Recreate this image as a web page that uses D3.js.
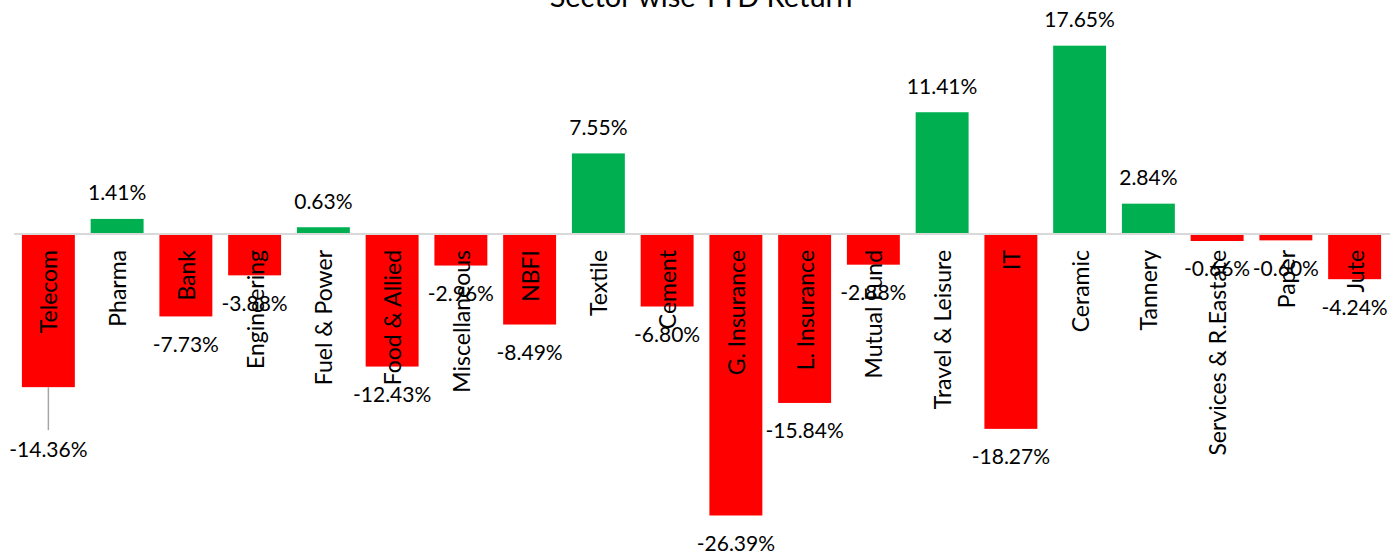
<!DOCTYPE html>
<html>
<head>
<meta charset="utf-8">
<script src="https://cdn.jsdelivr.net/npm/d3@7"></script>
<style>
  body { margin: 0; background: #fff; }
  text { font-family: Lato, "Open Sans", sans-serif; fill: #000; }
</style>
</head>
<body>
<div id="chart"></div>
<script>
// Data
var sectors = ['Telecom', 'Pharma', 'Bank', 'Engineering', 'Fuel & Power', 'Food & Allied',
  'Miscellaneous', 'NBFI', 'Textile', 'Cement', 'G. Insurance', 'L. Insurance', 'Mutual Fund',
  'Travel & Leisure', 'IT', 'Ceramic', 'Tannery', 'Services & R.Eastate', 'Paper', 'Jute']
var returns = [-14.36, 1.41, -7.73, -3.88, 0.63, -12.43, -2.96, -8.49, 7.55, -6.80, -26.39,
  -15.84, -2.88, 11.41, -18.27, 17.65, 2.84, -0.66, -0.60, -4.24]
var title = 'Sector wise YTD Return'

var width = 1390
var height = 551

var svg = d3.select('#chart').append('svg')
  .attr('width', width)
  .attr('height', height)

// Scales
var x = d3.scaleBand()
  .domain(sectors)
  .range([14, 1389])
  .paddingInner(0.23)
  .paddingOuter(0.115)

var y = d3.scaleLinear()
  .domain([-30, 20])
  .range([554, 20.6])

var data = sectors.map(function (s, i) {
  return { name: s, v: returns[i] }
})

// Title
svg.append('text')
  .attr('x', 701)
  .attr('y', 7)
  .attr('text-anchor', 'middle')
  .style('font-size', '29px')
  .text(title)

// Bars
svg.selectAll('.bar')
  .data(data)
  .enter().append('rect')
  .attr('class', 'bar')
  .attr('x', function (d) { return x(d.name) })
  .attr('width', x.bandwidth())
  .attr('y', function (d) { return d.v >= 0 ? y(d.v) : y(0) })
  .attr('height', function (d) { return Math.abs(y(d.v) - y(0)) })
  .attr('fill', function (d) { return d.v >= 0 ? '#00b050' : '#ff0000' })

// Zero line
svg.append('line')
  .attr('x1', 14).attr('x2', 1390)
  .attr('y1', y(0)).attr('y2', y(0))
  .attr('stroke', '#d9d9d9')
  .attr('stroke-width', 2)

// Category labels, rotated
svg.selectAll('.cat')
  .data(data)
  .enter().append('text')
  .attr('class', 'cat')
  .attr('transform', function (d) {
    return 'translate(' + (x(d.name) + x.bandwidth() / 2 + 1) + ',' + (y(0) + 16) + ') rotate(-90)'
  })
  .attr('text-anchor', 'end')
  .attr('dy', '0.35em')
  .style('font-size', '23px')
  .text(function (d) { return d.name })

// Leader line for moved Telecom label
var moved = { 'Telecom': 62 }
data.forEach(function (d) {
  if (moved[d.name]) {
    svg.append('line')
      .attr('x1', x(d.name) + x.bandwidth() / 2)
      .attr('x2', x(d.name) + x.bandwidth() / 2)
      .attr('y1', y(d.v))
      .attr('y2', y(d.v) + moved[d.name] - 19)
      .attr('stroke', '#a6a6a6')
      .attr('stroke-width', 1.5)
  }
})

// Value labels
svg.selectAll('.val')
  .data(data)
  .enter().append('text')
  .attr('class', 'val')
  .attr('x', function (d) { return x(d.name) + x.bandwidth() / 2 })
  .attr('y', function (d) {
    if (moved[d.name]) return y(d.v) + moved[d.name]
    return d.v >= 0 ? y(d.v) - 26 : y(d.v) + 28
  })
  .attr('text-anchor', 'middle')
  .attr('dy', '0.35em')
  .style('font-size', '21px')
  .text(function (d) { return d.v.toFixed(2) + '%' })
</script>
</body>
</html>
